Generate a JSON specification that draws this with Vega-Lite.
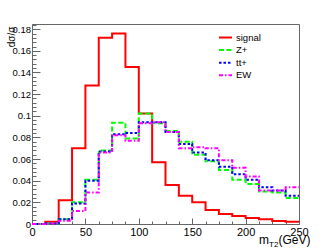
{
  "$schema": "https://vega.github.io/schema/vega-lite/v6.json",
  "width": 267,
  "height": 200,
  "autosize": "none",
  "padding": {"left": 32, "top": 24, "right": 33, "bottom": 25},
  "background": "white",
  "config": {
    "font": "Liberation Sans",
    "view": {"stroke": "#666", "strokeWidth": 1},
    "axis": {"grid": false, "domainColor": "#666", "tickColor": "#666", "labelColor": "#000", "titleColor": "#000", "titleFontWeight": "normal", "labelFlush": false, "labelOverlap": false}
  },
  "data": {
    "values": [
      {"x": 0, "signal": 0, "Z+": 0, "tt+": 0, "EW": 0},
      {"x": 12.5, "signal": 0.002, "Z+": 0.0005, "tt+": 0.0005, "EW": 0.0005},
      {"x": 25, "signal": 0.022, "Z+": 0.0045, "tt+": 0.0045, "EW": 0.003},
      {"x": 37.5, "signal": 0.070, "Z+": 0.020, "tt+": 0.019, "EW": 0.012},
      {"x": 50, "signal": 0.128, "Z+": 0.041, "tt+": 0.040, "EW": 0.029},
      {"x": 62.5, "signal": 0.172, "Z+": 0.068, "tt+": 0.067, "EW": 0.066},
      {"x": 75, "signal": 0.176, "Z+": 0.0935, "tt+": 0.083, "EW": 0.082},
      {"x": 87.5, "signal": 0.145, "Z+": 0.079, "tt+": 0.084, "EW": 0.077},
      {"x": 100, "signal": 0.102, "Z+": 0.102, "tt+": 0.094, "EW": 0.093},
      {"x": 112.5, "signal": 0.057, "Z+": 0.093, "tt+": 0.094, "EW": 0.094},
      {"x": 125, "signal": 0.036, "Z+": 0.086, "tt+": 0.085, "EW": 0.085},
      {"x": 137.5, "signal": 0.026, "Z+": 0.076, "tt+": 0.074, "EW": 0.070},
      {"x": 150, "signal": 0.020, "Z+": 0.064, "tt+": 0.066, "EW": 0.071},
      {"x": 162.5, "signal": 0.013, "Z+": 0.058, "tt+": 0.059, "EW": 0.070},
      {"x": 175, "signal": 0.0093, "Z+": 0.050, "tt+": 0.053, "EW": 0.059},
      {"x": 187.5, "signal": 0.0074, "Z+": 0.041, "tt+": 0.046, "EW": 0.052},
      {"x": 200, "signal": 0.0056, "Z+": 0.037, "tt+": 0.041, "EW": 0.044},
      {"x": 212.5, "signal": 0.0044, "Z+": 0.030, "tt+": 0.034, "EW": 0.031},
      {"x": 225, "signal": 0.0028, "Z+": 0.029, "tt+": 0.031, "EW": 0.031},
      {"x": 237.5, "signal": 0.002, "Z+": 0.024, "tt+": 0.026, "EW": 0.034},
      {"x": 250, "signal": 0.002, "Z+": 0.024, "tt+": 0.026, "EW": 0.034}
    ]
  },
  "transform": [{"fold": ["signal", "Z+", "tt+", "EW"], "as": ["series", "value"]}],
  "layer": [
    {
      "mark": {"type": "line", "interpolate": "step-after", "strokeWidth": 2},
      "encoding": {
        "x": {"field": "x", "type": "quantitative", "scale": {"domain": [0, 250], "nice": false, "zero": false},
          "axis": {"orient": "bottom", "values": [0, 50, 100, 150, 200, 250], "tickSize": -6, "labelPadding": 8, "labelFontSize": 11,
            "title": "m", "titleFontSize": 12, "titleAlign": "left", "titleBaseline": "alphabetic", "titleX": 226.5, "titleY": 19.3}},
        "y": {"field": "value", "type": "quantitative", "scale": {"domain": [0, 0.1848], "nice": false},
          "axis": {"orient": "left", "values": [0, 0.02, 0.04, 0.06, 0.08, 0.1, 0.12, 0.14, 0.16, 0.18], "format": "~g", "tickSize": -8, "labelPadding": 9.5, "labelFontSize": 9.5,
            "title": "dσ/σ", "titleFontSize": 10, "titleAngle": -90, "titleAlign": "right", "titleBaseline": "alphabetic", "titleX": -17.4, "titleY": 2}},
        "color": {"field": "series", "type": "nominal",
          "scale": {"domain": ["signal", "Z+", "tt+", "EW"], "range": ["#ff0000", "#00ff00", "#0000ff", "#ff00ff"]},
          "legend": {"orient": "none", "legendX": 186, "legendY": 6, "title": null, "symbolType": "stroke", "symbolSize": 169, "symbolStrokeWidth": 2, "labelFontSize": 9.5, "labelColor": "#000", "rowPadding": 0.6, "padding": 0, "labelOffset": 3}},
        "strokeDash": {"field": "series", "type": "nominal",
          "scale": {"domain": ["signal", "Z+", "tt+", "EW"], "range": [[1, 0], [5, 2.5], [2.5, 2], [4, 2, 1.5, 2]]},
          "legend": {"orient": "none", "legendX": 186, "legendY": 6, "title": null, "symbolType": "stroke", "symbolSize": 169, "symbolStrokeWidth": 2, "labelFontSize": 9.5, "labelColor": "#000", "rowPadding": 0.6, "padding": 0, "labelOffset": 3}}
      }
    },
    {
      "mark": {"type": "point", "opacity": 0},
      "encoding": {
        "x": {"field": "x", "type": "quantitative", "scale": {"domain": [0, 250], "nice": false, "zero": false},
          "axis": {"orient": "bottom", "values": [0, 12.5, 25, 37.5, 50, 62.5, 75, 87.5, 100, 112.5, 125, 137.5, 150, 162.5, 175, 187.5, 200, 212.5, 225, 237.5, 250], "tickSize": -3, "labels": false, "domain": false,
            "title": "T2", "titleFontSize": 8, "titleAlign": "left", "titleBaseline": "alphabetic", "titleX": 236.5, "titleY": 22.5}},
        "y": {"field": "value", "type": "quantitative", "scale": {"domain": [0, 0.1848], "nice": false},
          "axis": {"orient": "left", "values": [0.004, 0.008, 0.012, 0.016, 0.024, 0.028, 0.032, 0.036, 0.044, 0.048, 0.052, 0.056, 0.064, 0.068, 0.072, 0.076, 0.084, 0.088, 0.092, 0.096, 0.104, 0.108, 0.112, 0.116, 0.124, 0.128, 0.132, 0.136, 0.144, 0.148, 0.152, 0.156, 0.164, 0.168, 0.172, 0.176, 0.184], "tickSize": -4, "labels": false, "domain": false, "title": null}}
      }
    },
    {
      "mark": {"type": "point", "opacity": 0},
      "encoding": {
        "x": {"field": "x", "type": "quantitative", "scale": {"domain": [0, 250], "nice": false, "zero": false},
          "axis": {"orient": "bottom", "ticks": false, "labels": false, "domain": false,
            "title": "(GeV)", "titleFontSize": 12, "titleAlign": "left", "titleBaseline": "alphabetic", "titleX": 246, "titleY": 19.3}}
      }
    }
  ],
  "resolve": {"axis": {"x": "independent", "y": "independent"}}
}
